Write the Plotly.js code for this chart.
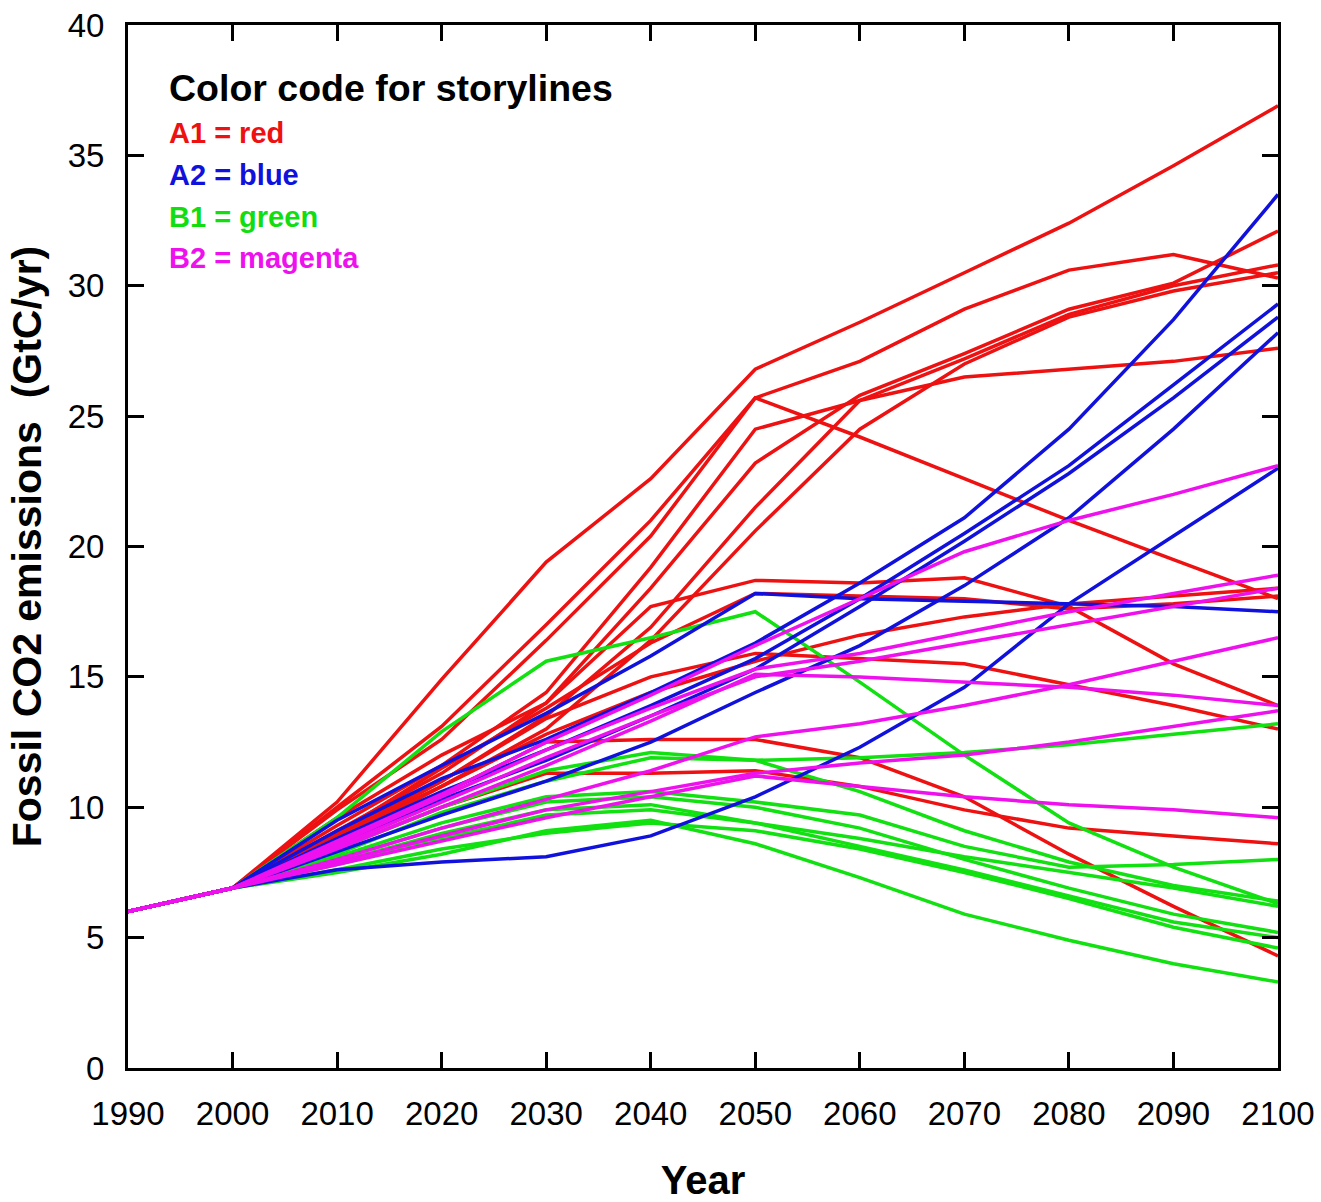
<!DOCTYPE html>
<html>
<head>
<meta charset="utf-8">
<script src="https://cdn.plot.ly/plotly-3.0.1.min.js"></script>
<style>
  html, body { margin: 0; padding: 0; background: #ffffff; }
  #chart { width: 1321px; height: 1202px; }
</style>
</head>
<body>
<div id="chart"></div>
<script>
// Years on the x axis
const years = [1990, 2000, 2010, 2020, 2030, 2040, 2050, 2060, 2070, 2080, 2090, 2100];

// A1 storyline (red) – fossil CO2 emissions, GtC/yr
const a1Series = [
  [6.0, 6.9, 10.2, 14.9, 19.4, 22.6, 26.8, 28.6, 30.5, 32.4, 34.6, 36.9],
  [6.0, 6.9, 10.0, 13.1, 17.0, 21.0, 25.7, 24.2, 22.6, 21.0, 19.5, 18.0],
  [6.0, 6.9, 9.9, 12.6, 16.4, 20.4, 25.7, 27.1, 29.1, 30.6, 31.2, 30.3],
  [6.0, 6.9, 9.3, 11.6, 14.4, 19.2, 24.5, 25.6, 26.5, 26.8, 27.1, 27.6],
  [6.0, 6.9, 9.1, 11.3, 14.0, 18.4, 23.2, 25.8, 27.4, 29.1, 30.1, 32.1],
  [6.0, 6.9, 9.0, 11.0, 13.5, 16.9, 21.5, 25.6, 27.2, 28.9, 30.0, 30.8],
  [6.0, 6.9, 8.9, 10.8, 13.0, 16.4, 20.6, 24.5, 27.0, 28.8, 29.8, 30.5],
  [6.0, 6.9, 9.6, 12.0, 14.0, 17.7, 18.7, 18.6, 18.8, 17.7, 15.5, 13.9],
  [6.0, 6.9, 9.0, 11.5, 13.8, 16.3, 18.2, 18.1, 18.0, 17.6, 17.8, 18.1],
  [6.0, 6.9, 8.7, 10.8, 12.8, 14.4, 15.6, 16.6, 17.3, 17.8, 18.1, 18.4],
  [6.0, 6.9, 8.8, 11.0, 13.4, 15.0, 15.9, 15.7, 15.5, 14.7, 13.9, 13.0],
  [6.0, 6.9, 8.5, 10.5, 12.5, 12.6, 12.6, 11.9, 10.4, 8.2, 6.2, 4.3],
  [6.0, 6.9, 8.4, 10.0, 11.3, 11.3, 11.4, 10.8, 9.9, 9.2, 8.9, 8.6]
];

// A2 storyline (blue)
const a2Series = [
  [6.0, 6.9, 9.5, 11.6, 13.6, 15.8, 18.2, 18.0, 17.9, 17.8, 17.7, 17.5],
  [6.0, 6.9, 7.6, 7.9, 8.1, 8.9, 10.4, 12.3, 14.6, 17.8, 20.4, 23.0],
  [6.0, 6.9, 9.1, 11.1, 12.6, 14.4, 16.3, 18.6, 21.1, 24.5, 28.7, 33.5],
  [6.0, 6.9, 8.8, 10.6, 12.2, 13.9, 15.7, 18.0, 20.5, 23.1, 26.2, 29.3],
  [6.0, 6.9, 8.6, 10.3, 11.8, 13.5, 15.3, 17.7, 20.2, 22.8, 25.7, 28.8],
  [6.0, 6.9, 8.3, 9.7, 11.0, 12.5, 14.4, 16.2, 18.5, 21.1, 24.5, 28.2]
];

// B1 storyline (green)
const b1Series = [
  [6.0, 6.9, 9.6, 12.9, 15.6, 16.5, 17.5, 14.8, 12.0, 9.4, 7.7, 6.3],
  [6.0, 6.9, 8.4, 10.0, 11.4, 12.1, 11.8, 11.9, 12.1, 12.4, 12.8, 13.2],
  [6.0, 6.9, 8.1, 9.4, 10.4, 10.6, 10.2, 9.7, 8.5, 7.7, 7.8, 8.0],
  [6.0, 6.9, 8.2, 9.8, 11.0, 11.9, 11.8, 10.6, 9.1, 7.9, 7.0, 6.4],
  [6.0, 6.9, 7.9, 9.0, 9.9, 10.1, 9.4, 8.8, 8.1, 7.5, 6.9, 6.2],
  [6.0, 6.9, 7.8, 8.8, 9.7, 9.9, 9.4, 8.5, 7.6, 6.6, 5.6, 5.0],
  [6.0, 6.9, 7.6, 8.4, 9.0, 9.4, 9.1, 8.4, 7.5, 6.5, 5.4, 4.6],
  [6.0, 6.9, 7.5, 8.2, 9.1, 9.5, 8.6, 7.3, 5.9, 4.9, 4.0, 3.3],
  [6.0, 6.9, 8.0, 9.2, 10.2, 10.4, 10.0, 9.2, 8.0, 6.9, 5.9, 5.2]
];

// B2 storyline (magenta)
const b2Series = [
  [6.0, 6.9, 8.7, 10.5, 12.5, 14.3, 16.2, 18.0, 19.8, 21.0, 22.0, 23.1],
  [6.0, 6.9, 8.6, 10.4, 12.2, 13.8, 15.3, 15.9, 16.7, 17.5, 18.2, 18.9],
  [6.0, 6.9, 8.0, 9.2, 10.3, 11.4, 12.7, 13.2, 13.9, 14.7, 15.6, 16.5],
  [6.0, 6.9, 8.4, 10.0, 11.6, 13.3, 15.1, 15.0, 14.8, 14.6, 14.3, 13.9],
  [6.0, 6.9, 7.9, 8.9, 9.9, 10.6, 11.3, 11.7, 12.0, 12.5, 13.1, 13.7],
  [6.0, 6.9, 7.8, 8.7, 9.6, 10.4, 11.2, 10.8, 10.4, 10.1, 9.9, 9.6],
  [6.0, 6.9, 8.5, 10.2, 11.9, 13.5, 15.0, 15.6, 16.3, 17.0, 17.7, 18.4]
];

// Legend text
const legendTitle = "Color code for storylines";
const legendItems = ["A1 = red", "A2 = blue", "B1 = green", "B2 = magenta"];
const legendColors = ["#ee1111", "#1111dd", "#11dd11", "#ee11ee"];

const xTickVals = [1990, 2000, 2010, 2020, 2030, 2040, 2050, 2060, 2070, 2080, 2090, 2100];
const yTickVals = [0, 5, 10, 15, 20, 25, 30, 35, 40];

const groups = [
  {series: a1Series, color: "#ee1111"},
  {series: b1Series, color: "#11e011"},
  {series: a2Series, color: "#1111dd"},
  {series: b2Series, color: "#ee11ee"}
];

const traces = [];
groups.forEach(g => {
  g.series.forEach(vals => {
    traces.push({
      x: years, y: vals, type: "scatter", mode: "lines",
      line: {color: g.color, width: 3.5},
      hoverinfo: "skip", showlegend: false
    });
  });
});

const narrow = "Liberation Sans Narrow, Arial Narrow, Liberation Sans, Arial, sans-serif";
const sans = "Liberation Sans, Arial, sans-serif";

const annotations = [{
  xref: "paper", yref: "paper", x: 0.034, y: 0.9396,
  xanchor: "left", yanchor: "middle", showarrow: false,
  text: "<b>" + legendTitle + "</b>",
  font: {family: narrow, size: 37.5, color: "#000000"}
}];
const legendY = [0.8965, 0.856, 0.8158, 0.7766];
legendItems.forEach((t, i) => {
  annotations.push({
    xref: "paper", yref: "paper", x: 0.034, y: legendY[i],
    xanchor: "left", yanchor: "middle", showarrow: false,
    text: "<b>" + t + "</b>",
    font: {family: narrow, size: 29, color: legendColors[i]}
  });
});

const axisCommon = {
  showgrid: false, zeroline: false, showline: true,
  linecolor: "#000000", linewidth: 3, mirror: "ticks",
  ticks: "inside", ticklen: 16, tickwidth: 3, tickcolor: "#000000",
  tickfont: {family: narrow, size: 33, color: "#000000"}
};

const layout = {
  width: 1321, height: 1202,
  margin: {l: 128, r: 43, t: 25, b: 134},
  paper_bgcolor: "#ffffff", plot_bgcolor: "#ffffff",
  xaxis: Object.assign({}, axisCommon, {
    range: [1990, 2100], tickvals: xTickVals, ticktext: xTickVals.map(String),
    ticklabelstandoff: 14,
    title: {text: "<b>Year</b>", font: {family: sans, size: 40, color: "#000000"}, standoff: 36}
  }),
  yaxis: Object.assign({}, axisCommon, {
    range: [0, 40], tickvals: yTickVals, ticktext: yTickVals.map(String),
    ticklabelstandoff: 14,
    title: {text: "<b>Fossil CO2 emissions  (GtC/yr)</b>", font: {family: sans, size: 41, color: "#000000"}, standoff: 14}
  }),
  annotations: annotations,
  showlegend: false
};

Plotly.newPlot("chart", traces, layout, {displayModeBar: false, staticPlot: true});
</script>
</body>
</html>
